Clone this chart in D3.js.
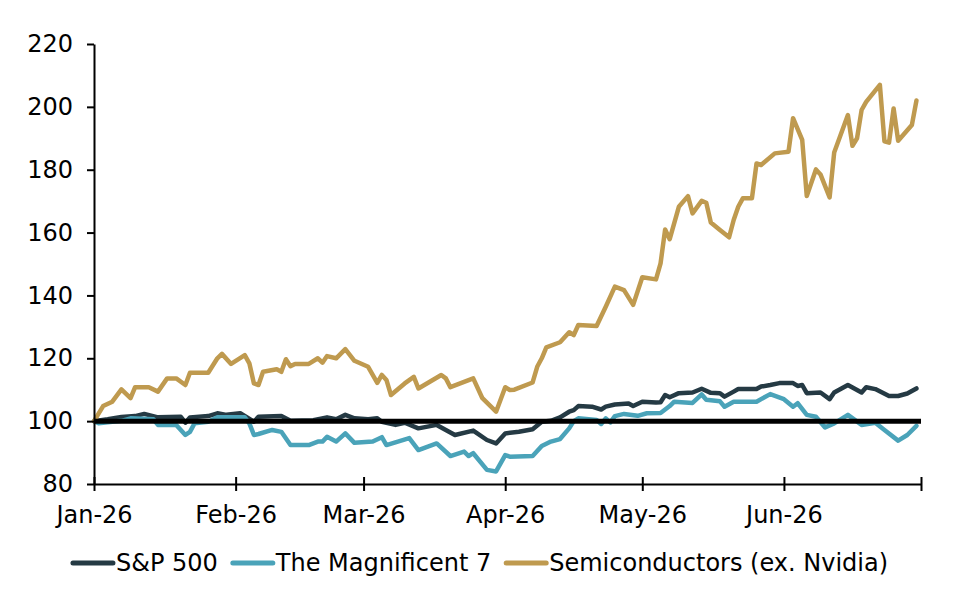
<!DOCTYPE html>
<html>
<head>
<meta charset="utf-8">
<script src="https://cdn.jsdelivr.net/npm/d3@7/dist/d3.min.js"></script>
<style>
  html, body { margin: 0; padding: 0; background: #fff; }
  svg { display: block; }
  text { font-family: "DejaVu Sans", Verdana, sans-serif; fill: #000; }
</style>
</head>
<body>
<svg id="chart" width="961" height="595"></svg>
<script>
// ---------- DATA ----------
const seriesNames = ["S&P 500", "The Magnificent 7", "Semiconductors (ex. Nvidia)"];
const yTicks = [80, 100, 120, 140, 160, 180, 200, 220];
const xTickLabels = ["Jan-26", "Feb-26", "Mar-26", "Apr-26", "May-26", "Jun-26", ""];
const baselineValue = 100;

const spxDates = ["01-01","01-04","01-07","01-10","01-12","01-15","01-20","01-21","01-22","01-26","01-28","01-30",
  "02-02","02-05","02-06","02-11","02-13","02-18","02-21","02-23","02-25","02-27",
  "03-02","03-04","03-05","03-08","03-10","03-13","03-17","03-21","03-25","03-28","03-30",
  "04-01","04-04","04-07","04-09","04-11","04-13","04-15","04-16","04-17","04-20","04-22","04-23","04-25","04-28","04-29",
  "05-01","05-04","05-05","05-06","05-07","05-09","05-12","05-14","05-16","05-18","05-19","05-21","05-22","05-26","05-27","05-29","05-31",
  "06-03","06-04","06-05","06-06","06-09","06-11","06-12","06-15","06-18","06-19","06-21","06-24","06-26","06-28","06-30"];
const spxValues = [100,100.6,101.3,101.6,102.3,101.2,101.4,99.5,101.2,101.6,102.5,102,
  102.5,99.8,101.4,101.6,100.1,100.3,101.2,100.6,102,100.9,
  100.6,100.9,99.8,98.8,99.5,97.7,98.8,95.6,97,94,92.9,
  96.1,96.6,97.4,99.8,100.1,101.2,103,103.5,104.8,104.6,103.7,104.6,105.3,105.6,104.8,
  106.2,105.9,106,108.3,107.6,108.9,109.1,110.3,109,108.9,107.8,109.4,110.2,110.2,111,111.5,112.1,
  112.1,111.2,111.5,108.9,109.1,107,109.1,111.5,109.1,110.8,110.2,108,108,108.8,110.4];

const mag7Dates = ["01-01","01-02","01-07","01-09","01-14","01-15","01-19","01-21","01-22","01-23","01-26","01-28",
  "02-03","02-04","02-05","02-06","02-09","02-11","02-13","02-17","02-19","02-20","02-21","02-23","02-25","02-27",
  "03-03","03-05","03-06","03-11","03-13","03-17","03-20","03-23","03-24","03-25","03-28","03-30",
  "04-01","04-02","04-07","04-09","04-11","04-13","04-15","04-16","04-17","04-21","04-22","04-23","04-24","04-25","04-27","04-30",
  "05-02","05-05","05-07","05-08","05-12","05-14","05-15","05-18","05-19","05-21","05-26","05-29",
  "06-01","06-03","06-04","06-06","06-08","06-10","06-12","06-15","06-18","06-21","06-23","06-26","06-28","06-30"];
const mag7Values = [100,99.3,100.1,100.9,100.6,98.8,98.8,95.6,96.6,99.3,99.8,101.2,
  101.2,99.3,95.6,95.9,97.2,96.6,92.4,92.4,93.5,93.5,95,93.5,96.1,93.1,
  93.5,94.9,92.4,94.6,90.8,92.9,88.9,90.3,88.9,89.8,84.5,84,
  89.2,88.7,88.9,92.1,93.5,94.3,97.7,100,100.9,100.4,99.1,100.9,99.6,101.6,102.3,101.7,
  102.5,102.6,104.8,106.2,105.8,108.5,106.8,106.3,104.6,106.2,106.2,108.6,
  107,104.6,105.7,102,101.4,98,99.3,102,98.8,99.5,97.2,93.8,95.6,98.5];

const semiDates = ["01-01","01-03","01-05","01-07","01-09","01-10","01-13","01-15","01-17","01-19","01-21","01-22","01-26","01-28","01-29","01-31",
  "02-03","02-04","02-05","02-06","02-07","02-10","02-11","02-12","02-13","02-14","02-17","02-19","02-20","02-21","02-23","02-25","02-27",
  "03-02","03-04","03-05","03-06","03-07","03-10","03-12","03-13","03-18","03-19","03-20","03-25","03-27","03-30",
  "04-01","04-02","04-03","04-07","04-08","04-09","04-10","04-13","04-15","04-16","04-17","04-21","04-23","04-25","04-27","04-29",
  "05-01","05-04","05-05","05-06","05-07","05-09","05-11","05-12","05-14","05-15","05-16","05-18","05-20","05-21","05-22","05-23","05-25","05-26","05-27","05-30",
  "06-02","06-03","06-05","06-06","06-08","06-09","06-11","06-12","06-15","06-16","06-17","06-18","06-19","06-22","06-23","06-24","06-25","06-26","06-29","06-30"];
const semiValues = [100,104.8,106.2,110.1,107.3,110.8,110.8,109.4,113.6,113.6,111.5,115.4,115.4,120,121.4,118.2,
  121,118.4,112,111.5,115.7,116.5,115.7,119.7,117.5,118.2,118.2,120,118.6,120.7,120,122.9,119.2,
  117.3,112.2,114.7,113.1,108.3,112,114.1,110.4,114.7,113.6,110.8,113.6,107.3,103,
  110.8,109.9,110,112.3,117.3,120,123.5,125.1,128.3,127.4,130.6,130.3,136.4,142.8,141.7,137,
  145.8,145.1,150.2,161,157.9,168.2,171.6,166.1,170.1,169.5,163.2,160.8,158.5,164,168.2,170.9,170.9,182,181.5,185.2,
  185.7,196.4,189.5,171.6,180.1,178.5,171.2,185.5,197.4,187.6,190,199,201.6,207,189,188.6,199.5,189.2,194.2,202];

const seriesColors = ["#253a44", "#4aa3b9", "#bf9a4f"];

// ---------- CHART ----------
const FONT = '"DejaVu Sans", Verdana, sans-serif';
const FONT_SIZE = "24px";
const svg = d3.select("#chart");
const W = 961, H = 595;
const margin = { left: 94, right: W - 921, top: 44, bottom: H - 484 };
const parse = d3.utcParse("%Y-%m-%d");
const toDate = md => parse("2026-" + md);

const x = d3.scaleUtc()
  .domain([toDate("01-01"), toDate("07-01")])
  .range([margin.left, W - margin.right]);
const y = d3.scaleLinear()
  .domain([80, 220])
  .range([H - margin.bottom, margin.top]);

const series = [
  { name: seriesNames[0], color: seriesColors[0], pts: spxDates.map((d, i) => ({ d: toDate(d), v: spxValues[i] })) },
  { name: seriesNames[1], color: seriesColors[1], pts: mag7Dates.map((d, i) => ({ d: toDate(d), v: mag7Values[i] })) },
  { name: seriesNames[2], color: seriesColors[2], pts: semiDates.map((d, i) => ({ d: toDate(d), v: semiValues[i] })) }
];

const line = d3.line().x(p => x(p.d)).y(p => y(p.v));

const gLines = svg.append("g");
series.forEach(s => {
  gLines.append("path")
    .datum(s.pts)
    .attr("fill", "none")
    .attr("stroke", s.color)
    .attr("stroke-width", 4.5)
    .attr("stroke-linejoin", "round")
    .attr("stroke-linecap", "round")
    .attr("d", line);
});

// baseline at 100
svg.append("line")
  .attr("x1", x.range()[0]).attr("x2", x.range()[1])
  .attr("y1", y(baselineValue)).attr("y2", y(baselineValue))
  .attr("stroke", "#000").attr("stroke-width", 5);

// y axis
const yAxis = svg.append("g")
  .attr("transform", `translate(${margin.left},0)`)
  .call(d3.axisLeft(y).tickValues(yTicks).tickSize(7).tickSizeOuter(0).tickPadding(14));
yAxis.select(".domain").attr("stroke", "#000").attr("stroke-width", 2);
yAxis.selectAll(".tick line").attr("stroke", "#000").attr("stroke-width", 2);
yAxis.selectAll(".tick text")
  .style("font-family", FONT)
  .style("font-size", FONT_SIZE).attr("fill", "#000");

// x axis
const monthTicks = d3.utcMonth.range(toDate("01-01"), d3.utcDay.offset(toDate("07-01"), 1));
const xAxis = svg.append("g")
  .attr("transform", `translate(0,${y(80)})`)
  .call(d3.axisBottom(x).tickValues(monthTicks).tickSize(7).tickSizeOuter(0)
    .tickFormat((d, i) => xTickLabels[i]));
xAxis.select(".domain").attr("stroke", "#000").attr("stroke-width", 2);
xAxis.selectAll(".tick line").attr("y1", -7).attr("y2", 7).attr("stroke", "#000").attr("stroke-width", 2);
xAxis.selectAll(".tick text")
  .attr("y", 39).attr("dy", 0)
  .style("font-family", FONT)
  .style("font-size", FONT_SIZE).attr("fill", "#000");

// legend
const legend = svg.append("g");
const swatchW = 40, swatchGap = 3, itemGap = 15, legendY = 563;
const items = series.map(s => {
  const g = legend.append("g");
  g.append("line").attr("x1", 0).attr("x2", swatchW).attr("y1", 0).attr("y2", 0)
    .attr("stroke", s.color).attr("stroke-width", 5).attr("stroke-linecap", "round");
  const t = g.append("text").attr("x", swatchW + swatchGap).attr("y", 0).attr("dy", "0.35em")
    .style("font-family", FONT).style("font-size", FONT_SIZE).text(s.name);
  const w = swatchW + swatchGap + t.node().getComputedTextLength();
  return { g, w };
});
const total = d3.sum(items, d => d.w) + itemGap * (items.length - 1);
let cursor = W / 2 - total / 2;
items.forEach(it => {
  it.g.attr("transform", `translate(${cursor},${legendY})`);
  cursor += it.w + itemGap;
});
</script>
</body>
</html>
